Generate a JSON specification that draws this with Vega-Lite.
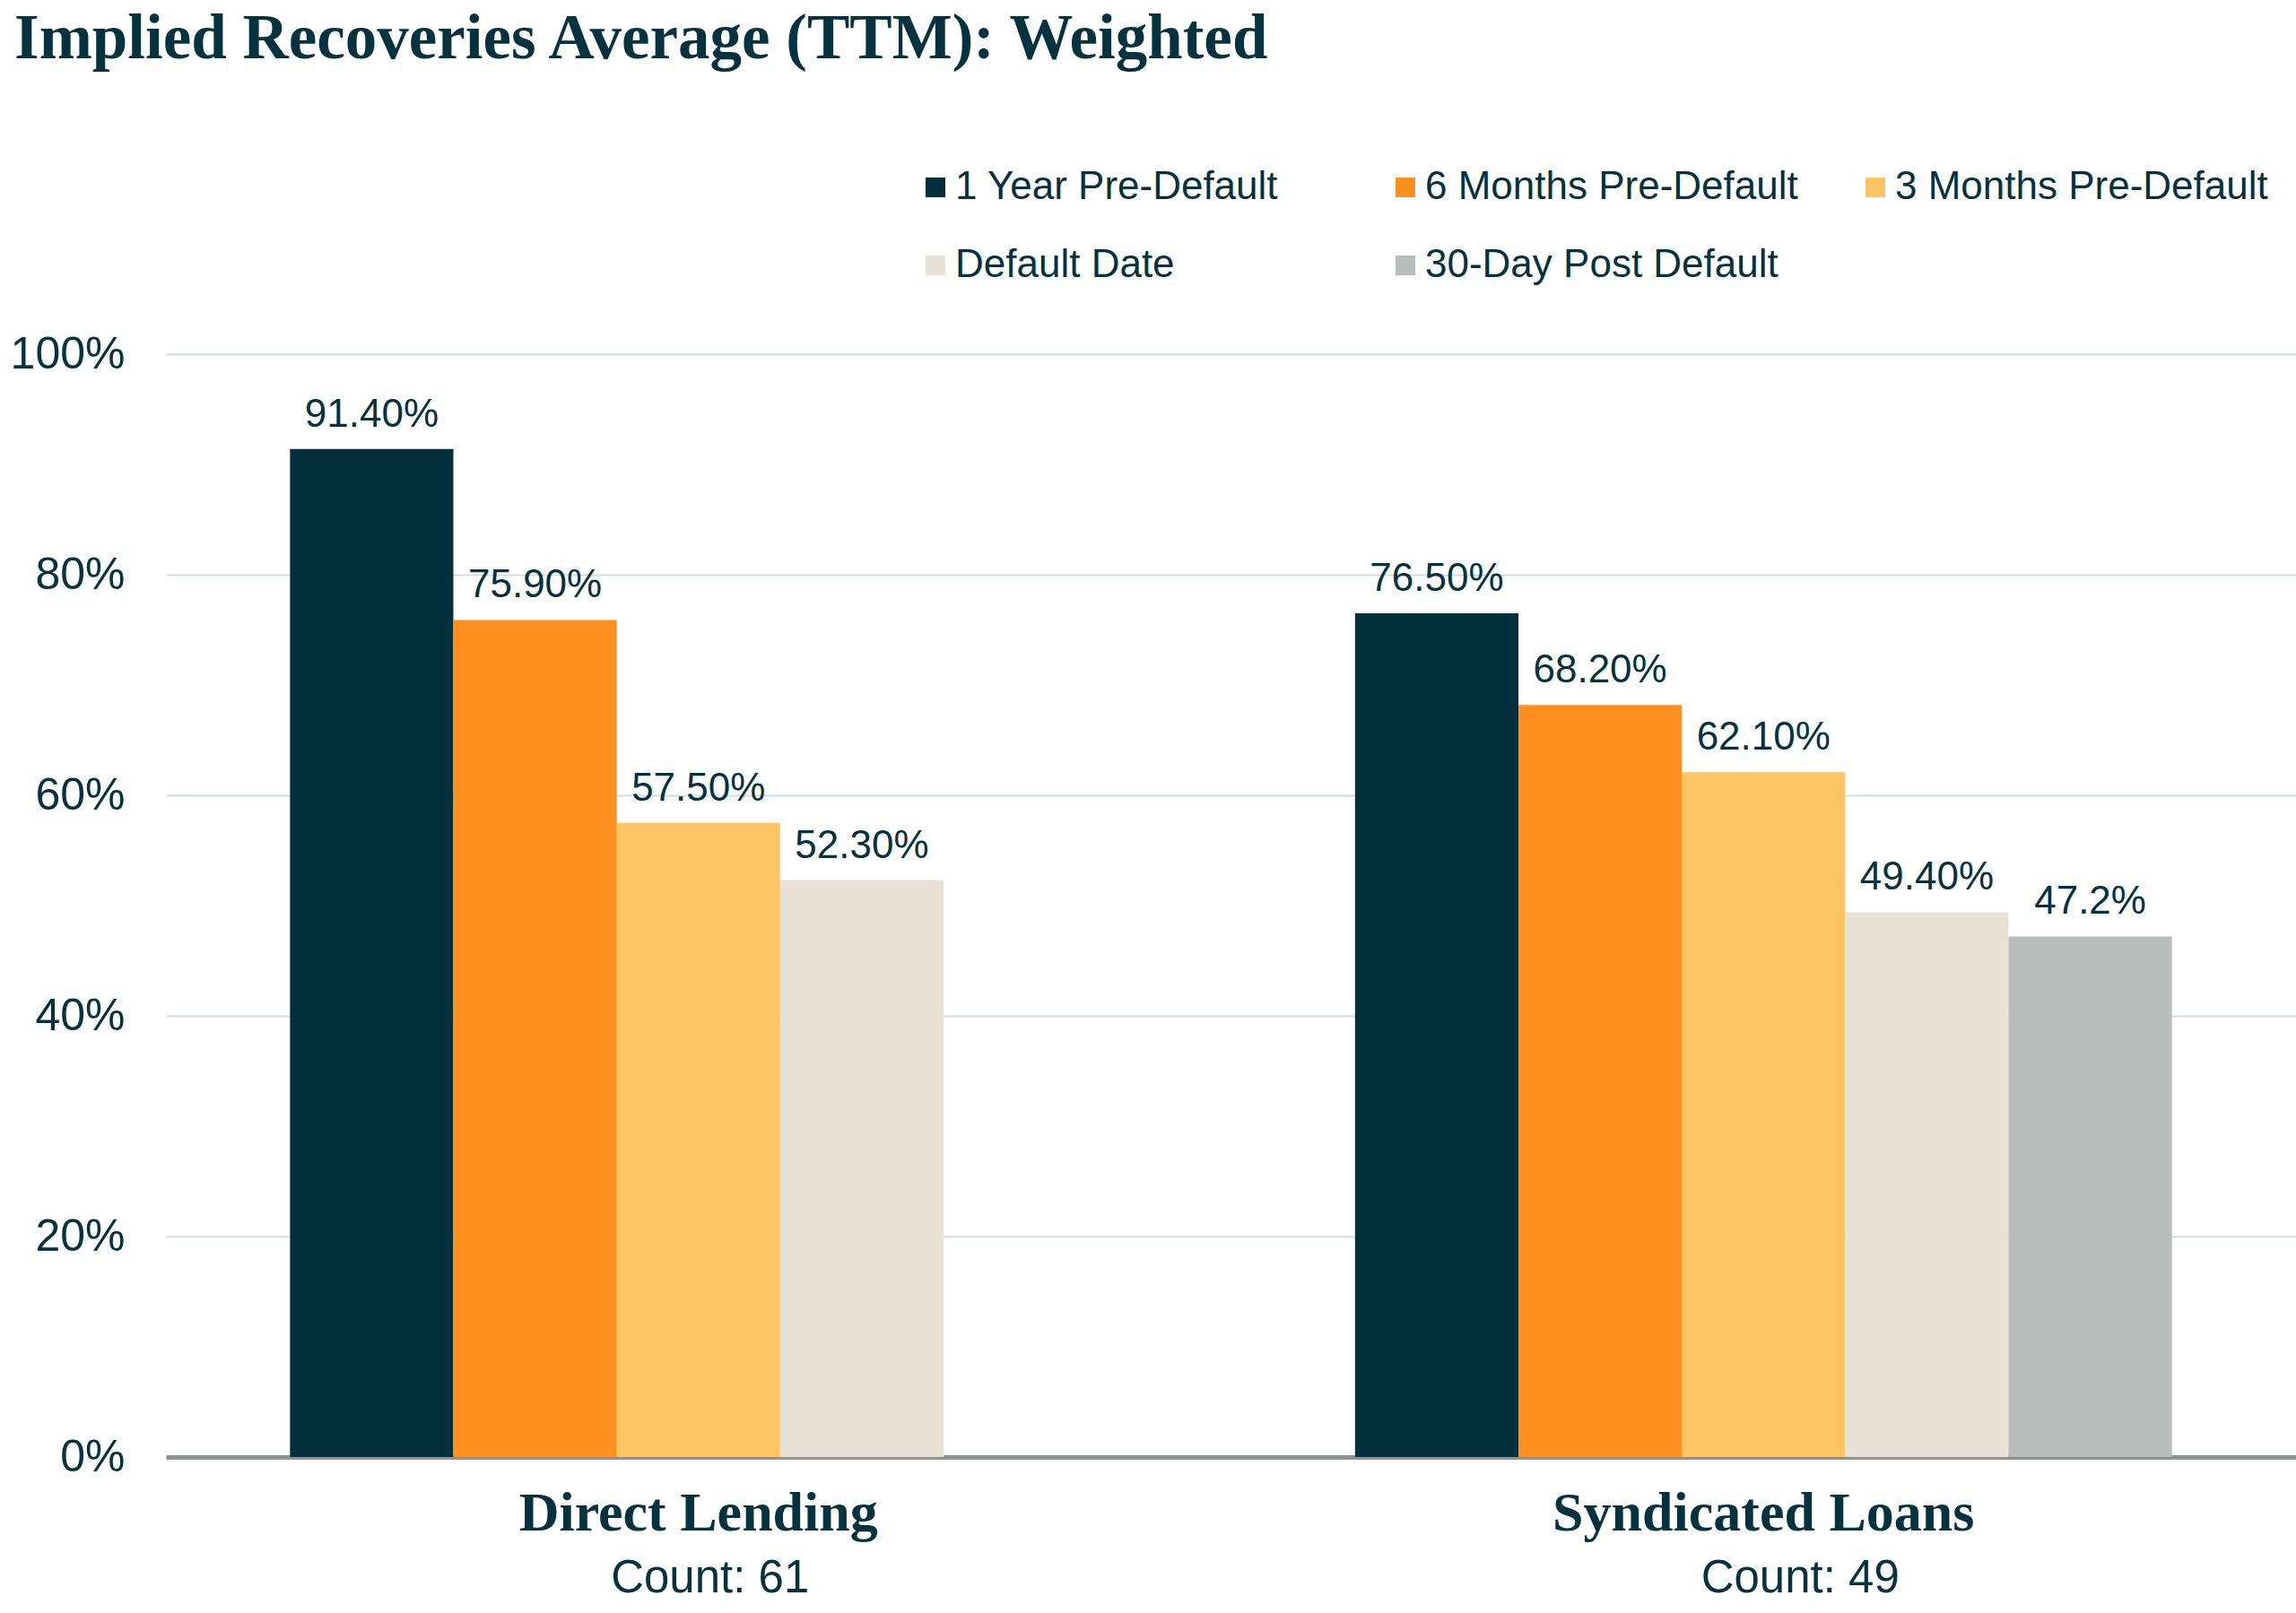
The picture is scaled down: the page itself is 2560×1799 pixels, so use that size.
{
  "$schema": "https://vega.github.io/schema/vega-lite/v6.json",
  "width": 2375,
  "height": 1230,
  "autosize": "none",
  "padding": {"left": 185, "top": 395, "right": 0, "bottom": 174},
  "background": "white",
  "title": {
    "text": "Implied Recoveries Average (TTM): Weighted",
    "anchor": "start",
    "frame": "group",
    "font": "Liberation Serif",
    "fontWeight": "bold",
    "fontSize": 71,
    "color": "#05323F",
    "baseline": "alphabetic",
    "dx": -169,
    "offset": 51
  },
  "config": {"view": {"stroke": null}},
  "data": {
    "values": [
      {"group": "Direct Lending", "series": "1 Year Pre-Default", "value": 0.914, "label": "91.40%"},
      {"group": "Direct Lending", "series": "6 Months Pre-Default", "value": 0.759, "label": "75.90%"},
      {"group": "Direct Lending", "series": "3 Months Pre-Default", "value": 0.575, "label": "57.50%"},
      {"group": "Direct Lending", "series": "Default Date", "value": 0.523, "label": "52.30%"},
      {"group": "Syndicated Loans", "series": "1 Year Pre-Default", "value": 0.765, "label": "76.50%"},
      {"group": "Syndicated Loans", "series": "6 Months Pre-Default", "value": 0.682, "label": "68.20%"},
      {"group": "Syndicated Loans", "series": "3 Months Pre-Default", "value": 0.621, "label": "62.10%"},
      {"group": "Syndicated Loans", "series": "Default Date", "value": 0.494, "label": "49.40%"},
      {"group": "Syndicated Loans", "series": "30-Day Post Default", "value": 0.472, "label": "47.2%"}
    ]
  },
  "layer": [
    {
      "mark": {"type": "bar"},
      "encoding": {
        "x": {
          "field": "group",
          "type": "nominal",
          "sort": ["Direct Lending", "Syndicated Loans"],
          "scale": {"paddingInner": 0.233, "paddingOuter": 0.1165},
          "axis": {
            "orient": "bottom",
            "title": null,
            "labelAngle": 0,
            "labelFont": "Liberation Serif",
            "labelFontWeight": "bold",
            "labelFontSize": 62,
            "labelColor": "#05323F",
            "labelBaseline": "alphabetic",
            "labelPadding": 81,
            "labelLimit": 1000,
            "ticks": false,
            "tickSize": 0,
            "domainColor": "#8E9293",
            "domainWidth": 5,
            "grid": false
          }
        },
        "xOffset": {
          "field": "series",
          "type": "nominal",
          "scale": {
            "domain": ["1 Year Pre-Default", "6 Months Pre-Default", "3 Months Pre-Default", "Default Date", "30-Day Post Default"],
            "paddingInner": 0,
            "paddingOuter": 0
          }
        },
        "y": {
          "field": "value",
          "type": "quantitative",
          "scale": {"domain": [0, 1]},
          "axis": {
            "title": null,
            "format": ".0%",
            "values": [0, 0.2, 0.4, 0.6, 0.8, 1],
            "labelFont": "Liberation Sans",
            "labelFontSize": 50,
            "labelColor": "#05323F",
            "labelPadding": 46,
            "domain": false,
            "ticks": false,
            "tickSize": 0,
            "grid": true,
            "gridColor": "#D5DCDE",
            "gridWidth": 2
          }
        },
        "color": {
          "field": "series",
          "type": "nominal",
          "scale": {
            "domain": ["1 Year Pre-Default", "6 Months Pre-Default", "3 Months Pre-Default", "Default Date", "30-Day Post Default"],
            "range": ["#03303C", "#FF8F1F", "#FDC563", "#E8E1D5", "#BABCBB"]
          },
          "legend": {
            "orient": "none",
            "legendX": 836,
            "legendY": -208,
            "direction": "horizontal",
            "columns": 3,
            "gridAlign": "all",
            "columnPadding": 64,
            "rowPadding": 43,
            "title": null,
            "symbolType": "square",
            "symbolSize": 484,
            "symbolStrokeWidth": 0,
            "labelFont": "Liberation Sans",
            "labelFontSize": 44,
            "labelColor": "#05323F",
            "labelOffset": 0,
            "labelLimit": 1000,
            "padding": 0
          }
        }
      }
    },
    {
      "mark": {"type": "text", "baseline": "alphabetic", "dy": -25, "font": "Liberation Sans", "fontSize": 44, "color": "#05323F"},
      "encoding": {
        "x": {
          "field": "group",
          "type": "nominal",
          "sort": ["Direct Lending", "Syndicated Loans"],
          "axis": {
            "orient": "bottom",
            "title": null,
            "labelAngle": 0,
            "labelExpr": "datum.value == 'Direct Lending' ? 'Count: 61' : 'Count: 49'",
            "labelFont": "Liberation Sans",
            "labelFontSize": 51,
            "labelColor": "#05323F",
            "labelBaseline": "alphabetic",
            "labelPadding": 150,
            "labelOffset": {"condition": {"test": "datum.value == 'Direct Lending'", "value": 13}, "value": 41},
            "labelLimit": 1000,
            "ticks": false,
            "tickSize": 0,
            "domain": false,
            "grid": false
          }
        },
        "xOffset": {"field": "series", "type": "nominal"},
        "y": {"field": "value", "type": "quantitative"},
        "text": {"field": "label", "type": "nominal"}
      }
    }
  ],
  "resolve": {"axis": {"x": "independent"}}
}
